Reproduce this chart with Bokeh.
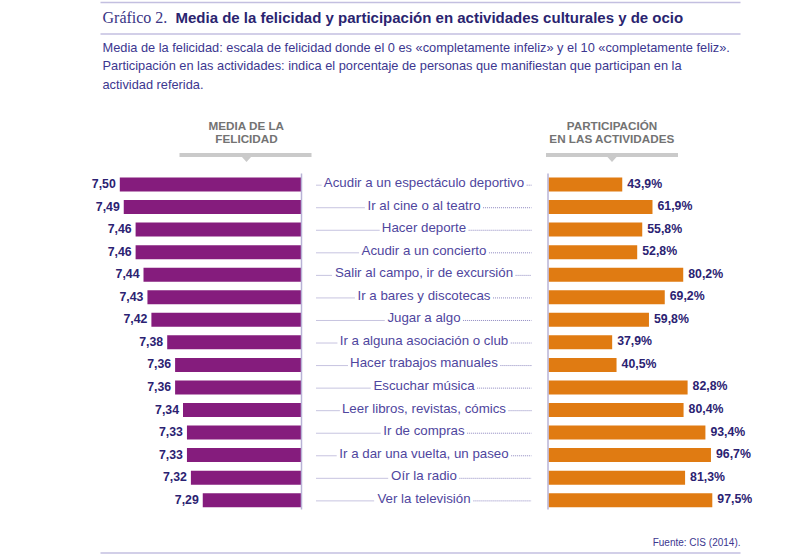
from bokeh.plotting import figure
from bokeh.models import Range1d, ColumnDataSource
from bokeh.embed import file_html
from bokeh.resources import INLINE
from bokeh.core.properties import value

# ---------------- data ----------------
actividades = [
    "Acudir a un espectáculo deportivo",
    "Ir al cine o al teatro",
    "Hacer deporte",
    "Acudir a un concierto",
    "Salir al campo, ir de excursión",
    "Ir a bares y discotecas",
    "Jugar a algo",
    "Ir a alguna asociación o club",
    "Hacer trabajos manuales",
    "Escuchar música",
    "Leer libros, revistas, cómics",
    "Ir de compras",
    "Ir a dar una vuelta, un paseo",
    "Oír la radio",
    "Ver la televisión",
]
felicidad = [7.50, 7.49, 7.46, 7.46, 7.44, 7.43, 7.42, 7.38, 7.36, 7.36, 7.34, 7.33, 7.33, 7.32, 7.29]
participacion = [43.9, 61.9, 55.8, 52.8, 80.2, 69.2, 59.8, 37.9, 40.5, 82.8, 80.4, 93.4, 96.7, 81.3, 97.5]

titulo_pre = "Gráfico 2."
titulo = "Media de la felicidad y participación en actividades culturales y de ocio"
subtitulo = [
    "Media de la felicidad: escala de felicidad donde el 0 es «completamente infeliz» y el 10 «completamente feliz».",
    "Participación en las actividades: indica el porcentaje de personas que manifiestan que participan en la",
    "actividad referida.",
]
cab_izq = ["MEDIA DE LA", "FELICIDAD"]
cab_der = ["PARTICIPACIÓN", "EN LAS ACTIVIDADES"]
fuente = "Fuente: CIS (2014)."

# ---------------- layout constants ----------------
W, H = 800, 555
X0, X1 = 0, W
Y0, Y1 = 0, H

LEFT_BASE = 7.04
LEFT_ZERO_PX = 301
LEFT_PX = 395.0
RIGHT_ZERO_PX = 548
RIGHT_PX = 1.68
ROW0_PX = 184
ROW_STEP = 22.55
BAR_H = 14 / ROW_STEP

MID_X = 423.5
LEAD_L, LEAD_R = 316, 531
MID_FS = 13.3

PURPLE = "#851c7d"
ORANGE = "#e07b12"
NAVY = "#2b2272"
TEXT_BLUE = "#3c3790"
LABEL_BLUE = "#4f469e"
RULE = "#c3bfe0"
AXIS = "#b8b3d6"
GRAY_TXT = "#737373"
GRAY_BAR = "#cacaca"
LEADER = "#8e88c0"

SANS = value("Liberation Sans")
SERIF = value("Liberation Serif")

# Liberation Sans (Arial metrics) advance widths, per 1000 em, to place the leader dots
ARIAL_W = {
    " ": 278, ",": 278, "A": 667, "E": 667, "H": 722, "I": 278, "J": 500, "L": 556,
    "O": 778, "V": 667, "S": 667, "a": 556, "b": 556, "c": 500, "d": 556, "e": 556,
    "f": 278, "g": 556, "h": 556, "i": 222, "j": 222, "k": 500, "l": 222, "m": 833,
    "n": 556, "o": 556, "p": 556, "q": 556, "r": 333, "s": 500, "t": 278, "u": 556,
    "v": 500, "x": 500, "y": 500, "z": 500, "á": 556, "é": 556, "í": 278, "ó": 556,
    "ú": 556,
}


def text_w(s, fs):
    return sum(ARIAL_W.get(c, 556) for c in s) * fs / 1000.0


p = figure(
    width=W, height=H,
    x_range=Range1d(X0, X1), y_range=Range1d(Y1, Y0),
    output_backend="svg", toolbar_location=None,
    min_border=0, outline_line_color=None,
    x_axis_location=None, y_axis_location=None,
)
p.grid.visible = False
p.background_fill_color = "white"
p.border_fill_color = "white"

p.extra_x_ranges = {
    "lv": Range1d(start=LEFT_BASE + (LEFT_ZERO_PX - X0) / LEFT_PX,
                  end=LEFT_BASE - (X1 - LEFT_ZERO_PX) / LEFT_PX),
    "rv": Range1d(start=(X0 - RIGHT_ZERO_PX) / RIGHT_PX,
                  end=(X1 - RIGHT_ZERO_PX) / RIGHT_PX),
}
p.extra_y_ranges = {
    "row": Range1d(start=(Y1 - ROW0_PX) / ROW_STEP, end=(Y0 - ROW0_PX) / ROW_STEP),
}

idx = list(range(len(actividades)))
half = [text_w(a, MID_FS) / 2 + 2.5 for a in actividades]
src = ColumnDataSource(dict(
    idx=idx,
    act=actividades,
    fel=felicidad,
    par=participacion,
    base=[LEFT_BASE] * len(idx),
    zero=[0] * len(idx),
    fel_lab=[f"{v:.2f}".replace(".", ",") for v in felicidad],
    par_lab=[f"{v:.1f}%".replace(".", ",") for v in participacion],
    lead_y=[i + 0.03 for i in idx],
    lead_a=[LEAD_L] * len(idx),
    lead_b=[MID_X - h for h in half],
    lead_c=[MID_X + h for h in half],
    lead_d=[LEAD_R] * len(idx),
))

# ---------------- rules ----------------
p.segment(x0=[100, 100, 100], x1=[740, 740, 740], y0=[2, 33.5, 552.5], y1=[2, 33.5, 552.5],
          line_color=RULE, line_width=1.5)

# ---------------- title / subtitle ----------------
p.text(x=[102], y=[17], text=[titulo_pre], text_font=SERIF, text_font_size="16px",
       text_color="#3a3585", text_baseline="middle", text_align="left")
p.text(x=[175], y=[17], text=[titulo], text_font=SANS, text_font_size="15px",
       text_font_style="bold", text_color="#2a2470", text_baseline="middle", text_align="left")
p.text(x=[102] * 3, y=[46.5, 65, 83.5], text=subtitulo, text_font=SANS, text_font_size="12.8px",
       text_color=TEXT_BLUE, text_baseline="middle", text_align="left")

# ---------------- headers ----------------
p.text(x=[246, 246], y=[125, 138.2], text=cab_izq, text_font=SANS, text_font_size="11.7px",
       text_font_style="bold", text_color=GRAY_TXT, text_baseline="middle", text_align="center")
p.text(x=[611.5, 611.5], y=[125, 138.2], text=cab_der, text_font=SANS, text_font_size="11.7px",
       text_font_style="bold", text_color=GRAY_TXT, text_baseline="middle", text_align="center")
p.quad(left=[179, 545.5], right=[311, 677.5], top=[152.5, 152.5], bottom=[156.5, 156.5],
       fill_color=GRAY_BAR, line_color=None)
p.patches(xs=[[241, 251, 246], [606.5, 616.5, 611.5]], ys=[[156, 156, 161.5], [156, 156, 161.5]],
          fill_color=GRAY_BAR, line_color=None)

# ---------------- bars ----------------
p.hbar(y="idx", left="base", right="fel", height=BAR_H, source=src,
       x_range_name="lv", y_range_name="row", fill_color=PURPLE, line_color=None)
p.hbar(y="idx", left="zero", right="par", height=BAR_H, source=src,
       x_range_name="rv", y_range_name="row", fill_color=ORANGE, line_color=None)

# axis lines
p.segment(x0=[301, 547.5], x1=[301, 547.5], y0=[173, 173], y1=[509, 509],
          line_color=AXIS, line_width=1.5)

# value labels
p.text(x="fel", y="idx", text="fel_lab", source=src, x_range_name="lv", y_range_name="row",
       x_offset=-4, y_offset=-1, text_align="right", text_baseline="middle",
       text_font=SANS, text_font_size="12.3px", text_font_style="bold", text_color=NAVY)
p.text(x="par", y="idx", text="par_lab", source=src, x_range_name="rv", y_range_name="row",
       x_offset=5, y_offset=-1, text_align="left", text_baseline="middle",
       text_font=SANS, text_font_size="12.3px", text_font_style="bold", text_color=NAVY)

# leaders + middle labels
p.segment(x0="lead_a", x1="lead_b", y0="lead_y", y1="lead_y", source=src, y_range_name="row",
          line_color=LEADER, line_width=1, line_dash="1 1")
p.segment(x0="lead_c", x1="lead_d", y0="lead_y", y1="lead_y", source=src, y_range_name="row",
          line_color=LEADER, line_width=1, line_dash="1 1")
p.text(x=MID_X, y="idx", text="act", source=src, y_range_name="row",
       y_offset=-2, text_align="center", text_baseline="middle",
       text_font=SANS, text_font_size=f"{MID_FS}px", text_color=LABEL_BLUE)

# footer
p.text(x=[740], y=[541.5], text=[fuente], text_font=SANS, text_font_size="10px",
       text_color=TEXT_BLUE, text_baseline="middle", text_align="right")

open("out.html", "w").write(file_html(p, INLINE))
